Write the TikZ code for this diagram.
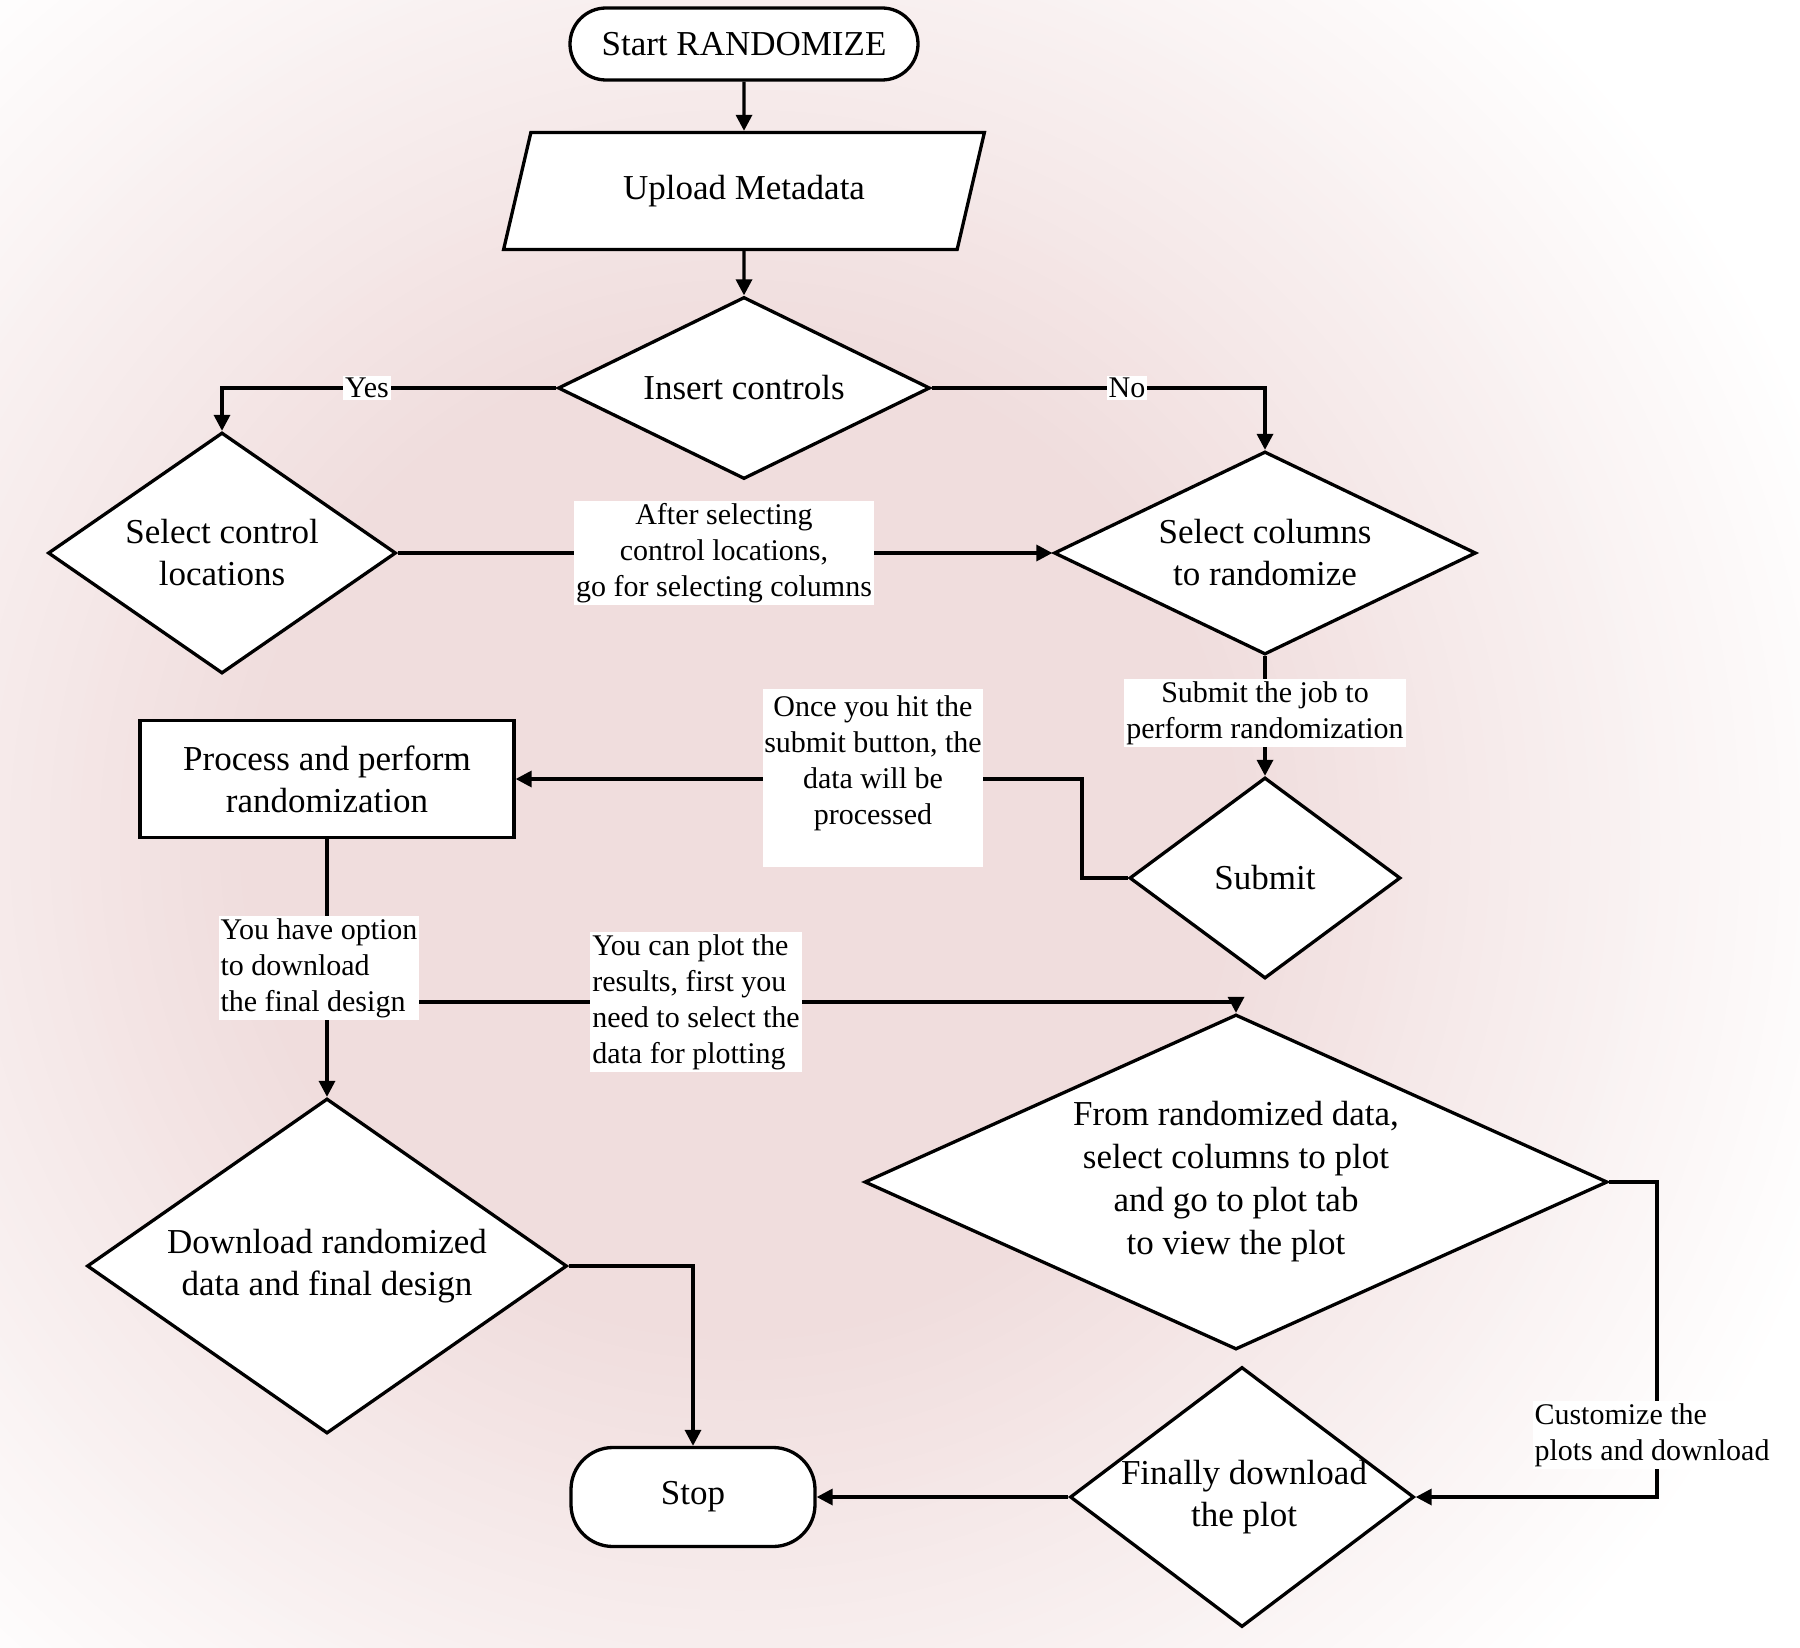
\documentclass[tikz,border=0pt]{standalone}
\usepackage{fontspec}
\setmainfont{Liberation Serif}
\usetikzlibrary{arrows.meta,shapes.geometric,calc}
\definecolor{bgpink}{RGB}{240,221,221}
\begin{document}
\begin{tikzpicture}[x=1pt,y=-1pt,
  shp/.style={draw=black, line width=3.3pt, fill=white, inner sep=0pt},
  term/.style={shp, rectangle, rounded corners=36pt},
  dia/.style={shp, diamond},
  mtfont/.style={font=\fontsize{35}{42}\selectfont},
  mt/.style={mtfont, align=center, inner sep=0pt},
  lbl/.style={fill=white, font=\fontsize{30}{36}\selectfont, align=center, inner sep=2pt},
  arr/.style={line width=3.3pt, -{Triangle[length=16pt,width=16pt]}}
]
\useasboundingbox (0,0) rectangle (1800,1648);
\begin{scope}
  \clip (0,0) rectangle (1800,1648);
  \fill[white] (0,0) rectangle (1800,1648);
  \foreach \ii in {0,...,70} {
    \pgfmathsetmacro{\radv}{1150-10*\ii}
    \pgfmathsetmacro{\pctv}{min(100,\ii*100/65)}
    \fill[bgpink!\pctv!white] (740,840) circle[radius=\radv pt];
  }
\end{scope}

% shapes
\node[term, mtfont, minimum width=348pt, minimum height=72pt] (start) at (744,44) {Start RANDOMIZE};
\node[shp, trapezium, trapezium left angle=64, trapezium right angle=116, trapezium stretches=true,
      minimum width=481pt, minimum height=117pt, mtfont] (upload) at (744,191) {Upload Metadata};
\node[dia, minimum width=372pt, minimum height=182pt] (insert) at (744,388) {};
\node[mt] (tinsert) at (insert) {Insert controls};
\node[dia, minimum width=348pt, minimum height=241pt] (selctrl) at (222,553) {};
\node[mt] (tselctrl) at (selctrl) {Select control\\locations};
\node[dia, minimum width=422pt, minimum height=203pt] (selcols) at (1265,553) {};
\node[mt] (tselcols) at (selcols) {Select columns\\to randomize};
\node[dia, minimum width=271pt, minimum height=201pt] (submit) at (1265,878) {};
\node[mt] (tsubmit) at (submit) {Submit};
\node[shp, rectangle, minimum width=374pt, minimum height=117pt, mtfont, align=center] (process) at (327,779) {Process and perform\\randomization};
\node[dia, minimum width=480pt, minimum height=335pt] (download) at (327,1266) {};
\node[mt] (tdownload) at (download) {Download randomized\\data and final design};
\node[dia, minimum width=743pt, minimum height=335pt] (fromrand) at (1236,1182) {};
\node[mt, font=\fontsize{35}{43}\selectfont] (tfromrand) at (fromrand) {From randomized data,\\select columns to plot\\and go to plot tab\\to view the plot};
\node[term, mtfont, minimum width=244pt, minimum height=99pt, rounded corners=42pt] (stop) at (693,1497) {Stop};
\node[dia, minimum width=344pt, minimum height=260pt] (finally) at (1242,1497) {};
\node[mt] (tfinally) at (1244,1497) {Finally download\\the plot};

% connectors
\draw[arr] (start.south) -- (upload.north);
\draw[arr] (upload.south) -- (insert.north);
\draw[arr] (insert.west) -| (selctrl.north);
\node[lbl] (yes) at (367,388) {Yes};
\draw[arr] (insert.east) -| (selcols.north);
\node[lbl] (no) at (1127,388) {No};
\draw[arr] (selctrl.east) -- (selcols.west);
\node[lbl] (l1) at (724,553) {After selecting\\control locations,\\go for selecting columns};
\draw[arr] (selcols.south) -- (submit.north);
\node[lbl] (l2) at (1265,713) {Submit the job to\\perform randomization};
\coordinate (c1) at (1082,779);
\draw[arr] (submit.west) -| (c1) -- (process.east);
\node[fill=white, inner sep=0pt, minimum width=220pt, minimum height=178pt] (l3box) at (873,778) {};
\node[lbl, fill=none] (l3) at (873,763) {Once you hit the\\submit button, the\\data will be\\processed};
\draw[arr] (process.south) -- (download.north);
\coordinate (br) at (327,1002);
\draw[arr] (br) -| (fromrand.north);
\node[lbl, align=left] (l4) at (319,968) {You have option\\to download\\the final design};
\node[lbl, align=left] (l5) at (696,1002) {You can plot the\\results, first you\\need to select the\\data for plotting};
\draw[arr] (download.east) -| (stop.north);
\coordinate (c2) at (1657,1182);
\draw[arr] (fromrand.east) -- (c2) |- (finally.east);
\node[lbl, align=left] (l6) at (1652,1435) {Customize the\\plots and download};
\draw[arr] (finally.west) -- (stop.east |- finally.west);
\end{tikzpicture}
\end{document}
